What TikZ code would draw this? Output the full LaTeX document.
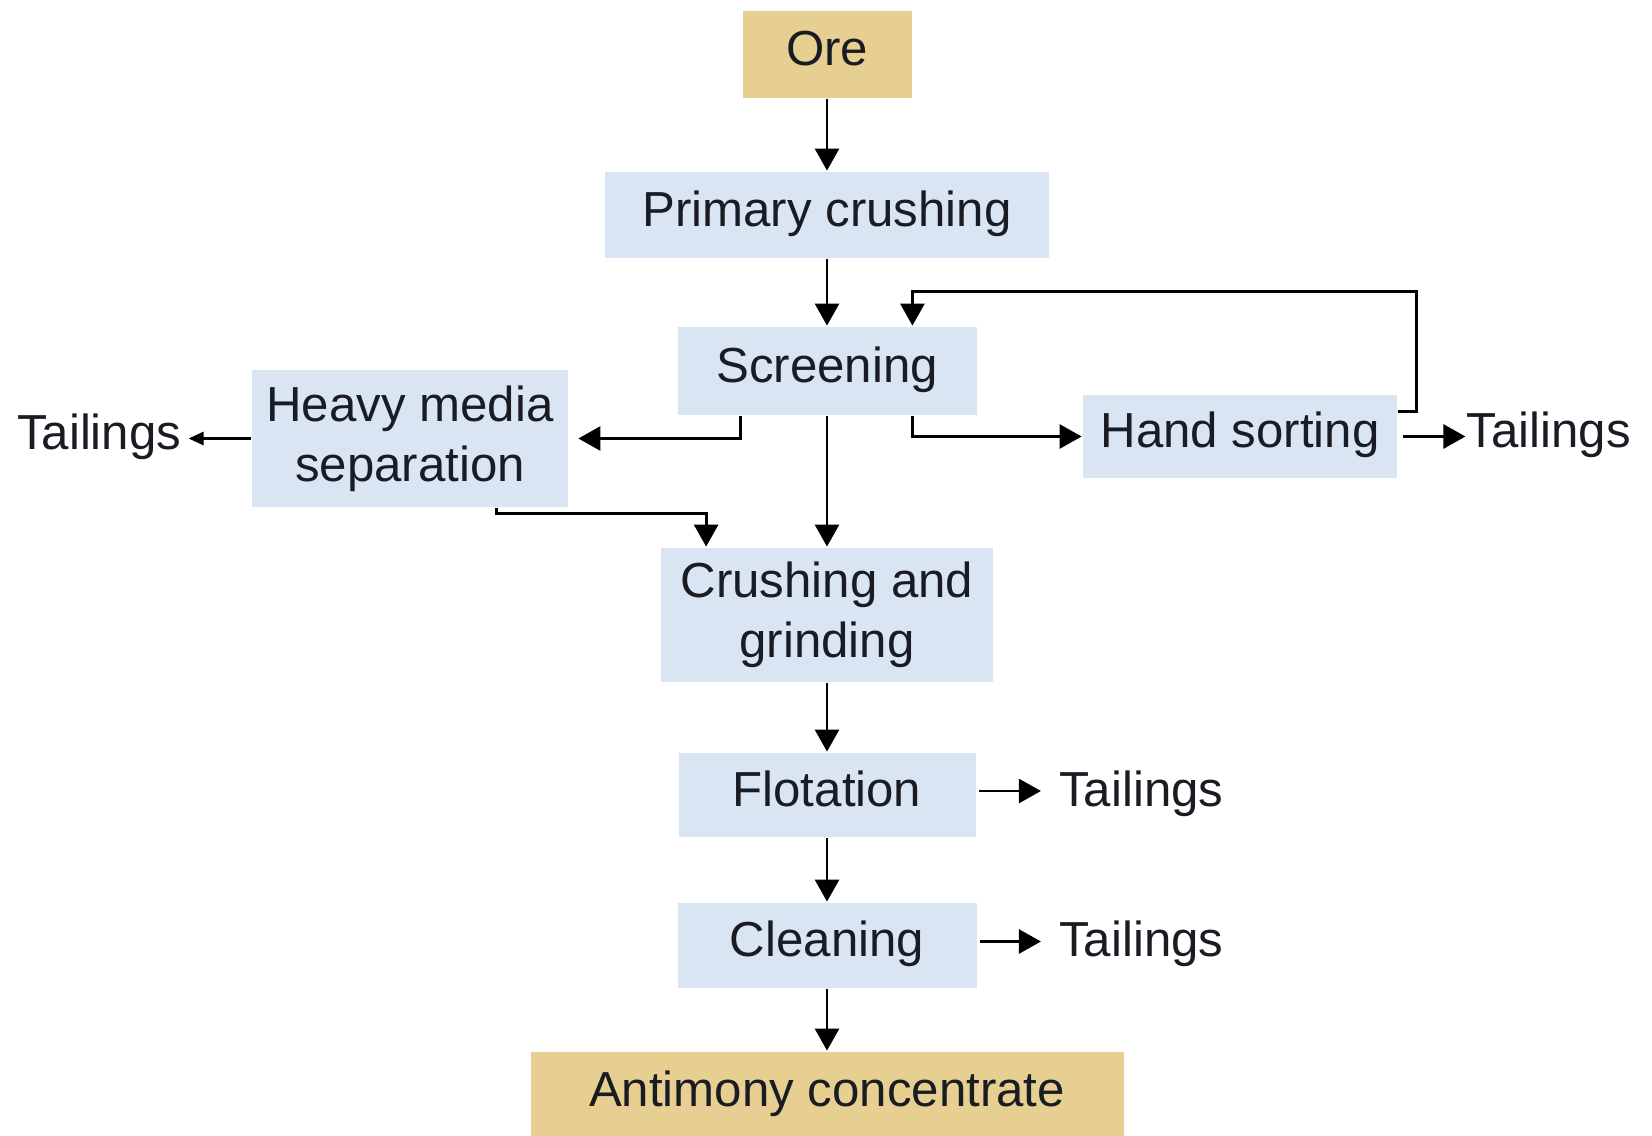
\documentclass[tikz,border=0pt]{standalone}
\usepackage{fontspec}
\setmainfont{Liberation Sans}
\usetikzlibrary{arrows.meta, positioning}
\definecolor{cblue}{HTML}{DAE5F3}
\definecolor{ctan}{HTML}{E7CE91}
\definecolor{cink}{HTML}{1A1C24}
\tikzset{
  every picture/.style={font=\fontsize{14}{17}\selectfont, line width=0.8pt},
  stage/.style={fill=#1, text=cink, align=center, inner sep=0pt},
  stage/.default=cblue,
  oneline/.style={text height=0.78em, text depth=0.15em},
  arrow/.style={-{Triangle[length=2.2mm, width=2.4mm]}, draw=black},
  smallarrow/.style={-{Triangle[length=1.5mm, width=1.3mm]}, draw=black},
  tail/.style={text=cink, inner sep=0pt, oneline},
}

\begin{document}
\begin{tikzpicture}
  \useasboundingbox (0,0) rectangle (16.52,-11.35);
  % main column
  \node[stage=ctan, oneline, minimum width=1.69cm, minimum height=0.87cm] (ore) at (8.27,-0.545) {Ore};
  \node[stage, oneline, minimum width=4.44cm, minimum height=0.86cm] (prim) at (8.27,-2.15) {Primary crushing};
  \node[stage, oneline, minimum width=2.99cm, minimum height=0.88cm] (screen) at (8.27,-3.71) {Screening};
  \node[stage, minimum width=3.32cm, minimum height=1.34cm] (crush) at (8.27,-6.15) {Crushing and\\grinding};
  \node[stage, oneline, minimum width=2.97cm, minimum height=0.84cm] (flot) at (8.27,-7.95) {Flotation};
  \node[stage, oneline, minimum width=2.99cm, minimum height=0.85cm] (clean) at (8.27,-9.455) {Cleaning};
  \node[stage=ctan, oneline, minimum width=5.93cm, minimum height=0.86cm] (anti) at (8.27,-10.95) {Antimony concentrate};
  % side branches off the screen
  \node[stage, minimum width=3.16cm, minimum height=1.37cm] (hms) at (4.10,-4.385) {Heavy media\\separation};
  \node[stage, oneline, minimum width=3.14cm, minimum height=0.83cm] (hand) at (12.40,-4.365) {Hand sorting};
  % tailings
  \node[tail, left=0.68cm of hms] (tailhms) {Tailings};
  \node[tail, right=0.67cm of hand] (tailhand) {Tailings};
  \node[tail, right=0.81cm of flot] (tailflot) {Tailings};
  \node[tail, right=0.80cm of clean] (tailclean) {Tailings};

  \draw[arrow] (ore) -- (prim);
  \draw[arrow] (prim) -- (screen);
  \draw[arrow] (screen) -- (crush);
  \draw[arrow] (crush) -- (flot);
  \draw[arrow] (flot) -- (clean);
  \draw[arrow] (clean) -- (anti);

  \draw[arrow, shorten >=0.09cm] ([xshift=0.645cm]screen.south west) |- (hms.east);
  \draw[arrow] ([xshift=-0.655cm]screen.south east) |- (hand.west);
  % oversize from hand sorting goes back to the screen
  \draw[arrow] ([yshift=-0.18cm]hand.north east) -- ++(0.18,0)
    |- ([xshift=-0.655cm, yshift=0.34cm]screen.north east) -- ([xshift=-0.655cm]screen.north east);
  \draw[arrow] ([xshift=2.46cm]hms.south west) -- ++(0,-0.05) -| ([xshift=0.465cm]crush.north west);

  \draw[smallarrow] (hms.west) -- ([xshift=0.06cm]tailhms.east);
  \draw[arrow, shorten <=0.05cm] (hand.east) -- (tailhand.west);
  \draw[arrow, shorten <=0.02cm] ([yshift=0.04cm]flot.east) -- ([xshift=-0.17cm, yshift=0.04cm]tailflot.west);
  \draw[arrow, shorten <=0.02cm] ([yshift=0.04cm]clean.east) -- ([xshift=-0.17cm, yshift=0.04cm]tailclean.west);
\end{tikzpicture}
\end{document}
